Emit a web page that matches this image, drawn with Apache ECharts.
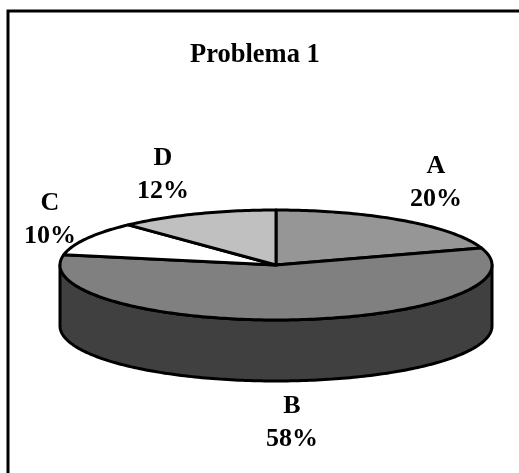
<!DOCTYPE html>
<html>
<head>
<meta charset="utf-8">
<style>
  html, body { margin: 0; padding: 0; background: #fff; }
  #main { width: 519px; height: 473px; }
</style>
<script src="https://cdn.jsdelivr.net/npm/echarts@6/dist/echarts.min.js"></script>
</head>
<body>
<div id="main"></div>
<script>
var titleText = 'Problema 1';
var categories = ['A', 'B', 'C', 'D'];
var shares = [20, 58, 10, 12];

var sliceColors = ['#969696', '#808080', '#ffffff', '#c0c0c0'];
var sideColor = '#404040';
var fontName = '"Liberation Serif", "Times New Roman", serif';

// pie geometry
var cx = 276, cy = 265, rx = 216, ry = 55, depth = 61;
// label centres, excel puts them by hand so not derived from the angle
var labelPos = [[436, 183], [292, 423], [50, 220], [163, 175]];

var total = shares.reduce(function (a, b) { return a + b; }, 0);

function ellipsePoint(deg, dy) {
  var t = deg * Math.PI / 180;
  return [cx + rx * Math.sin(t), cy - ry * Math.cos(t) + (dy || 0)];
}

function arcPoints(from, to, dy) {
  var pts = [];
  for (var d = from; d < to; d += 1) {
    pts.push(ellipsePoint(d, dy));
  }
  pts.push(ellipsePoint(to, dy));
  return pts;
}

function renderSlice(params, api) {
  var idx = params.dataIndex;
  var start = 0;
  for (var i = 0; i < idx; i++) {
    start += shares[i] / total * 360;
  }
  var end = start + api.value(0) / total * 360;
  var children = [];

  // the wall only shows on the front half of the pie
  var sideFrom = Math.max(start, 90);
  var sideTo = Math.min(end, 270);
  if (sideTo > sideFrom) {
    var wall = arcPoints(sideFrom, sideTo, 0).concat(arcPoints(sideFrom, sideTo, depth).reverse());
    children.push({
      type: 'polygon',
      shape: { points: wall },
      style: { fill: sideColor, stroke: '#000', lineWidth: 3, lineJoin: 'round' }
    });
  }

  children.push({
    type: 'polygon',
    shape: { points: [[cx, cy]].concat(arcPoints(start, end, 0)) },
    style: { fill: sliceColors[idx], stroke: '#000', lineWidth: 3, lineJoin: 'round' }
  });

  children.push({
    type: 'text',
    z2: 10,
    style: {
      x: labelPos[idx][0],
      y: labelPos[idx][1],
      text: categories[idx] + '\n' + api.value(0) + '%',
      fill: '#000',
      font: 'bold 26px ' + fontName,
      lineHeight: 33,
      align: 'center',
      verticalAlign: 'middle'
    }
  });

  return { type: 'group', children: children };
}

var chart = echarts.init(document.getElementById('main'));
chart.setOption({
  animation: false,
  backgroundColor: '#fff',
  title: {
    text: titleText,
    left: 190,
    top: 42,
    textStyle: { fontFamily: fontName, fontWeight: 'bold', fontSize: 26.5, color: '#000' },
    padding: 0
  },
  graphic: [{
    type: 'polyline',
    shape: { points: [[8, 473], [8, 11], [519, 11]] },
    style: { fill: 'none', stroke: '#000', lineWidth: 3 }
  }],
  series: [{
    type: 'custom',
    coordinateSystem: 'none',
    renderItem: renderSlice,
    data: shares.map(function (v, i) { return { name: categories[i], value: [v] }; })
  }]
});
</script>
</body>
</html>
